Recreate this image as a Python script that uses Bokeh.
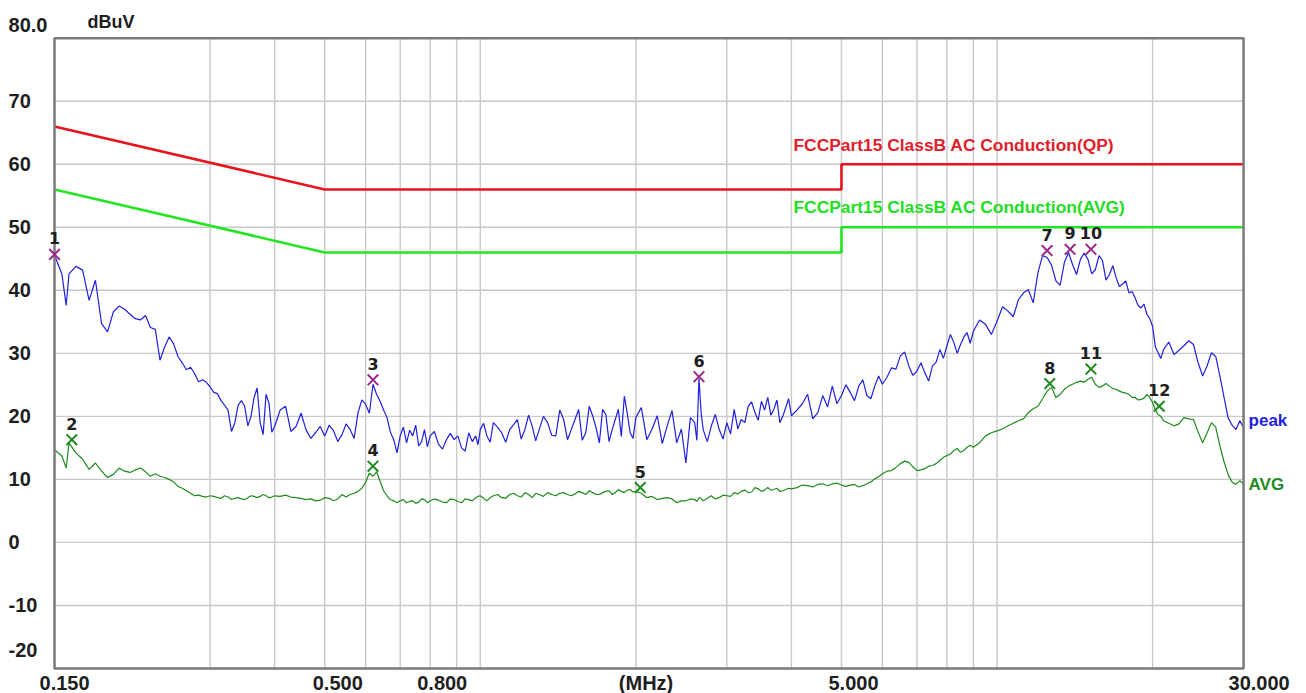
from bokeh.plotting import figure
from bokeh.models import Range1d, LabelSet, ColumnDataSource
from bokeh.core.properties import value
from bokeh.embed import file_html
from bokeh.resources import INLINE

# ---- data (MHz, dBuV) ----
freq = [0.150, 0.155, 0.158, 0.160, 0.165, 0.170, 0.175, 0.180, 0.185, 0.190, 0.195, 0.200,
        0.21, 0.22, 0.23, 0.24, 0.25, 0.26, 0.27, 0.28, 0.29, 0.30, 0.31, 0.32, 0.33, 0.34,
        0.35, 0.36, 0.37, 0.38, 0.39, 0.40, 0.42, 0.44, 0.46, 0.48, 0.50, 0.52, 0.54, 0.56,
        0.58, 0.60, 0.62, 0.64, 0.66, 0.68, 0.70, 0.72, 0.74, 0.76, 0.78, 0.80, 0.83, 0.86,
        0.89, 0.92, 0.95, 0.98, 1.00, 1.03, 1.06, 1.10, 1.14, 1.18, 1.22, 1.26, 1.30, 1.35,
        1.40, 1.45, 1.50, 1.55, 1.60, 1.65, 1.70, 1.75, 1.80, 1.85, 1.90, 1.95, 2.00, 2.1,
        2.2, 2.3, 2.4, 2.5, 2.6, 2.65, 2.7, 2.8, 2.9, 3.0, 3.1, 3.2, 3.3, 3.4, 3.5, 3.6,
        3.7, 3.8, 3.9, 4.0, 4.2, 4.4, 4.6, 4.8, 5.0, 5.2, 5.4, 5.6, 5.8, 6.0, 6.25, 6.5,
        6.75, 7.0, 7.25, 7.5, 7.75, 8.0, 8.25, 8.5, 8.75, 9.0, 9.5, 10.0, 10.5, 11.0, 11.5,
        12.0, 12.5, 13.0, 13.5, 14.0, 14.5, 15.0, 15.5, 16.0, 16.5, 17.0, 17.5, 18.0, 18.5,
        19.0, 19.5, 20.0, 20.5, 21.0, 22.0, 23.0, 24.0, 25.0, 26.0, 27.0, 28.0, 29.0, 30.0]

peak = [45.6, 42.6, 37.6, 42.6, 43.8, 43.2, 38.4, 41.6, 34.7, 33.4, 36.6, 37.5,
        36.2, 35.3, 34.1, 28.9, 32.6, 29.5, 27.4, 26.8, 25.8, 24.7, 23.6, 21.8, 17.6, 21.8,
        21.6, 20.0, 24.5, 17.1, 22.1, 18.4, 21.6, 18.4, 17.9, 17.4, 16.9, 17.7, 17.1, 17.9,
        20.6, 21.9, 25.1, 22.4, 19.8, 16.3, 16.9, 15.8, 16.9, 15.3, 17.9, 16.9, 15.6, 16.3,
        16.3, 15.0, 17.4, 16.9, 17.9, 16.9, 19.0, 17.4, 17.9, 19.5, 17.9, 18.5, 17.9, 19.0,
        16.9, 19.5, 17.9, 21.1, 17.4, 20.1, 15.8, 20.3, 17.9, 21.1, 23.2, 17.4, 19.8, 16.3,
        20.1, 18.5, 15.8, 12.6, 19.0, 26.0, 17.9, 18.5, 17.9, 19.0, 21.1, 19.5, 21.6, 20.6,
        22.4, 23.0, 21.1, 19.0, 21.4, 20.1, 22.0, 19.6, 23.3, 24.8, 23.3, 23.8, 24.8, 23.3,
        24.8, 25.1, 27.7, 29.6, 28.0, 27.2, 26.9, 28.0, 30.6, 31.2, 31.7, 31.4, 33.3, 33.5,
        34.6, 35.1, 36.7, 38.5, 40.1, 42.8, 45.2, 41.5, 44.4, 44.1, 44.9, 44.9, 43.3, 44.7,
        42.5, 42.0, 41.0, 39.6, 38.8, 37.2, 36.2, 34.3, 30.1, 30.6, 29.8, 31.2, 31.4, 26.4,
        30.1, 26.4, 19.8, 17.9, 18.2]

avg = [14.7, 13.7, 11.8, 15.8, 14.2, 13.2, 11.6, 12.6, 11.3, 10.3, 10.8, 11.8,
       11.1, 11.8, 10.5, 10.5, 10.0, 8.9, 8.2, 7.4, 7.3, 7.4, 7.1, 7.4, 6.8, 7.1,
       6.8, 7.4, 7.1, 7.6, 7.1, 7.4, 7.5, 7.1, 6.8, 6.6, 7.1, 6.6, 7.6, 7.6,
       8.1, 9.5, 10.5, 9.7, 7.4, 6.6, 6.6, 6.3, 6.6, 6.4, 6.8, 6.6, 6.7, 6.3,
       6.8, 6.3, 6.8, 7.1, 7.4, 6.6, 7.4, 7.1, 7.6, 7.4, 7.9, 7.1, 7.6, 7.9,
       7.4, 7.9, 7.4, 8.1, 7.6, 7.9, 7.6, 8.1, 7.6, 8.4, 7.9, 8.4, 8.1, 7.1,
       6.8, 7.1, 6.3, 6.6, 6.8, 7.1, 6.6, 7.4, 7.1, 7.4, 7.9, 8.1, 7.9, 8.7,
       8.1, 8.7, 8.4, 8.1, 8.4, 8.5, 9.1, 8.8, 9.3, 9.3, 9.1, 9.1, 8.8, 9.3,
       10.1, 10.9, 11.4, 12.5, 12.7, 11.4, 11.7, 12.2, 13.0, 13.8, 14.6, 14.3, 15.1, 15.1,
       16.9, 17.7, 18.5, 19.3, 20.6, 21.6, 24.0, 23.0, 24.3, 25.1, 25.6, 25.9, 25.1, 24.8,
       24.8, 24.3, 23.8, 23.5, 23.0, 22.7, 23.5, 22.2, 20.3, 19.3, 18.5, 19.8, 19.5, 15.8,
       19.0, 15.3, 10.8, 9.2, 9.2]

# in-between sweep points (the trace's fine ripple)
freq_mid = [0.205, 0.215, 0.225, 0.235, 0.245, 0.255, 0.265, 0.275, 0.285, 0.295, 0.305, 0.315,
            0.325, 0.335, 0.345, 0.355, 0.365, 0.375, 0.385, 0.395, 0.41, 0.43, 0.45, 0.47, 0.49,
            0.51, 0.53, 0.55, 0.57, 0.59, 0.61, 0.63, 0.65, 0.67, 0.69, 0.71, 0.73, 0.75, 0.77,
            0.79, 0.815, 0.845, 0.875, 0.905, 0.935, 0.965, 0.99, 1.015, 1.045, 1.08, 1.12, 1.16,
            1.20, 1.24, 1.28, 1.325, 1.375, 1.425, 1.475, 1.525, 1.575, 1.625, 1.675, 1.725,
            1.775, 1.825, 1.875, 1.925, 1.975, 2.05, 2.15, 2.25, 2.35, 2.45, 2.55, 2.625, 2.675,
            2.75, 2.85, 2.95, 3.05, 3.15, 3.25, 3.35, 3.45, 3.55, 3.65, 3.75, 3.85, 3.95, 4.1,
            4.3, 4.5, 4.7, 4.9, 5.1, 5.3, 5.5, 5.7, 5.9, 6.125, 6.375, 6.625, 6.875, 7.125,
            7.375, 7.625, 7.875, 8.125, 8.375, 8.625, 8.875, 9.25, 9.75, 10.25, 10.75, 11.25,
            11.75, 12.25, 12.75, 13.25, 13.75, 14.25, 14.75, 15.25, 15.75, 16.25, 16.75, 17.25,
            17.75, 18.25, 18.75, 19.25, 19.75, 20.25, 20.75, 21.5, 22.5, 23.5, 24.5, 25.5, 26.5,
            27.5, 28.5, 29.5]

peak_mid = [37.0, 35.5, 36.0, 33.8, 31.0, 31.5, 28.5, 27.8, 25.5, 25.4, 23.8, 22.5,
            21.0, 19.0, 22.5, 18.5, 23.0, 19.0, 23.5, 17.5, 21.0, 17.6, 20.5, 16.5, 18.4,
            18.6, 16.0, 18.8, 16.5, 22.6, 20.5, 23.5, 21.0, 17.5, 14.2, 18.3, 17.8, 18.6, 16.0,
            15.2, 17.6, 14.8, 17.3, 16.9, 14.5, 16.0, 15.5, 18.9, 15.9, 18.3, 15.9, 18.7,
            16.4, 20.2, 16.1, 20.0, 17.0, 21.0, 16.3, 19.5, 16.2, 21.6, 18.2, 21.1,
            16.0, 19.5, 16.8, 20.5, 16.5, 21.4, 18.0, 15.7, 20.9, 18.0, 19.8, 16.2, 20.6,
            16.0, 20.3, 16.4, 17.2, 18.0, 19.0, 22.3, 19.4, 21.0, 20.2, 22.6, 20.0, 22.8, 21.0,
            23.5, 20.6, 21.5, 22.0, 25.0, 22.5, 25.8, 22.8, 26.4, 26.2, 27.5, 30.2, 26.5, 28.5,
            25.6, 28.6, 29.2, 33.0, 30.0, 32.6, 31.6, 35.3, 33.0, 37.4, 35.8, 39.6,
            38.0, 45.5, 44.0, 40.8, 46.0, 42.5, 45.9, 42.6, 45.5, 41.6, 43.9, 40.6,
            41.5, 39.8, 37.6, 37.8, 35.5, 31.0, 29.2, 31.8, 30.5, 32.0, 28.5, 28.0, 29.5,
            23.0, 18.6, 19.3]

avg_mid = [11.3, 11.5, 11.2, 10.9, 10.3, 9.6, 8.6, 7.8, 7.5, 7.2, 7.3, 7.0,
           7.2, 7.0, 6.9, 7.1, 7.3, 7.3, 7.4, 7.2, 7.3, 7.2, 7.0, 6.9, 6.7,
           7.0, 6.9, 7.2, 7.8, 8.6, 11.0, 11.2, 8.2, 6.8, 6.3, 6.8, 6.5, 6.2, 6.9,
           6.3, 6.9, 6.4, 6.9, 6.5, 6.9, 6.6, 7.3, 7.0, 7.1, 7.6, 7.0, 7.8,
           7.2, 7.6, 7.8, 7.3, 7.6, 7.8, 7.6, 7.7, 7.9, 8.2, 7.6, 7.9,
           8.2, 7.9, 8.1, 8.3, 8.0, 7.8, 7.3, 7.0, 6.9, 6.6, 6.9, 6.5, 7.0,
           7.0, 6.9, 7.5, 7.3, 7.7, 8.3, 8.0, 8.5, 8.3, 8.3, 8.6, 8.2, 8.6, 8.7,
           9.0, 9.2, 9.0, 9.4, 8.9, 9.2, 9.0, 9.6, 10.4, 11.3, 11.9, 12.9, 12.0, 11.5,
           12.1, 12.5, 13.5, 14.0, 14.9, 14.6, 15.4, 15.8, 17.4, 18.0, 18.9, 19.6,
           21.2, 22.8, 24.6, 23.5, 24.8, 25.4, 25.4, 26.2, 24.6, 25.2, 24.4, 24.0,
           23.7, 23.0, 22.6, 22.9, 23.0, 21.0, 20.0, 18.9, 18.8, 19.6, 17.5, 17.4, 18.3,
           12.8, 9.6, 9.8]

limit_freq = [0.15, 0.5, 0.5, 5.0, 5.0, 30.0]
qp_limit = [66.0, 56.0, 56.0, 56.0, 60.0, 60.0]
avg_limit = [56.0, 46.0, 46.0, 46.0, 50.0, 50.0]

peak_mark_freq = [0.15, 0.62, 2.65, 12.5, 13.85, 15.2]
peak_mark_val = [45.7, 25.8, 26.3, 46.3, 46.5, 46.5]
peak_mark_txt = ["1", "3", "6", "7", "9", "10"]

avg_mark_freq = [0.162, 0.62, 2.04, 12.65, 15.2, 20.6]
avg_mark_val = [16.3, 12.1, 8.7, 25.2, 27.5, 21.6]
avg_mark_txt = ["2", "4", "5", "8", "11", "12"]

x_grid = [0.3, 0.4, 0.5, 0.6, 0.7, 0.8, 0.9, 1, 2, 3, 4, 5, 6, 7, 8, 9, 10, 20]
y_grid = [-10, 0, 10, 20, 30, 40, 50, 60, 70]

x_tick_vals = [0.15, 0.5, 0.8, 5.0, 30.0]
x_tick_txt = ["0.150", "0.500", "0.800", "5.000", "30.000"]
y_tick_vals = [80, 70, 60, 50, 40, 30, 20, 10, 0, -10, -20]
y_tick_txt = ["80.0", "70", "60", "50", "40", "30", "20", "10", "0", "-10", "-20"]

X_MIN, X_MAX = 0.15, 30.0
Y_MIN, Y_MAX = -20.0, 80.0

# merge main and in-between sweep points into one trace table
trace = sorted(zip(freq + freq_mid, peak + peak_mid, avg + avg_mid))
t_freq = [t[0] for t in trace]
t_peak = [t[1] for t in trace]
t_avg = [t[2] for t in trace]

# ---- figure: the frame covers the whole canvas; the chart box is drawn inside it ----
p = figure(width=1306, height=693, x_axis_type="log",
           x_range=Range1d(0.11791, 39.71), y_range=Range1d(-23.97, 85.98),
           output_backend="svg", toolbar_location=None,
           min_border_left=0, min_border_right=0, min_border_top=0, min_border_bottom=0)
p.xaxis.visible = False
p.yaxis.visible = False
p.xgrid.visible = False
p.ygrid.visible = False
p.outline_line_color = None
p.background_fill_color = "white"
p.border_fill_color = "white"

grid_col = "#c8c8c8"
p.segment(x0=x_grid, y0=[Y_MIN] * len(x_grid), x1=x_grid, y1=[Y_MAX] * len(x_grid),
          line_color=grid_col, line_width=1.4)
p.segment(x0=[X_MIN] * len(y_grid), y0=y_grid, x1=[X_MAX] * len(y_grid), y1=y_grid,
          line_color=grid_col, line_width=1.4)

p.line(limit_freq, qp_limit, line_color="#e8141c", line_width=2.6)
p.line(limit_freq, avg_limit, line_color="#22e622", line_width=2.6)
p.line(t_freq, t_peak, line_color="#1f1fe0", line_width=1.2)
p.line(t_freq, t_avg, line_color="#1e8a1e", line_width=1.2)

p.quad(left=[X_MIN], right=[X_MAX], bottom=[Y_MIN], top=[Y_MAX], fill_color=None,
       line_color="#7a7a7a", line_width=2.5)

p.scatter(peak_mark_freq, peak_mark_val, marker="x", size=15, line_width=2, line_color="#9a2a8a")
p.scatter(avg_mark_freq, avg_mark_val, marker="x", size=15, line_width=2, line_color="#1e8a1e")

for fr, vl, tx in [(peak_mark_freq, peak_mark_val, peak_mark_txt),
                   (avg_mark_freq, avg_mark_val, avg_mark_txt)]:
    src = ColumnDataSource(dict(x=fr, y=vl, t=tx))
    p.add_layout(LabelSet(x="x", y="y", text="t", source=src, y_offset=16,
                          text_align="center", text_baseline="middle",
                          text_font=value("DejaVu Sans"), text_font_style="bold",
                          text_font_size="16px", text_color="#202020"))

F = value("Liberation Sans")
INK = "#1e1e1e"
# y tick labels, left aligned at the window edge; end labels sit just inside the box
y_pos = [{80: 82.09, -20: -17.14}.get(v, v) for v in y_tick_vals]
p.text(x=[X_MIN] * len(y_tick_vals), y=y_pos, text=y_tick_txt, x_offset=-46,
       text_align="left", text_baseline="middle", text_font=F, text_font_style="bold",
       text_font_size="20px", text_color=INK)
# x tick labels and unit
p.text(x=x_tick_vals + [2.0], y=[-22.35] * (len(x_tick_vals) + 1), text=x_tick_txt + ["(MHz)"],
       x_offset=[-15, -12, -13, -13, -15, -17],
       text_align="left", text_baseline="alphabetic", text_font=F, text_font_style="bold",
       text_font_size="20px", text_color=INK)
p.text(x=[X_MIN], y=[82.54], text=["dBuV"], x_offset=33, text_align="left", text_baseline="middle",
       text_font=F, text_font_style="bold", text_font_size="18px", text_color=INK)

p.text(x=[5.0, 5.0], y=[62.98, 53.14],
       text=["FCCPart15 ClassB AC Conduction(QP)", "FCCPart15 ClassB AC Conduction(AVG)"],
       x_offset=-48, text_align="left", text_baseline="middle", text_font=F, text_font_style="bold",
       text_font_size="17.4px", text_color=["#e0202a", "#22dd22"])
p.text(x=[X_MAX, X_MAX], y=[19.35, 9.19], text=["peak", "AVG"], x_offset=5,
       text_align="left", text_baseline="middle", text_font=F, text_font_style="bold",
       text_font_size="17px", text_color=["#2222dd", "#1e8a1e"])

open("out.html", "w").write(file_html(p, INLINE))
